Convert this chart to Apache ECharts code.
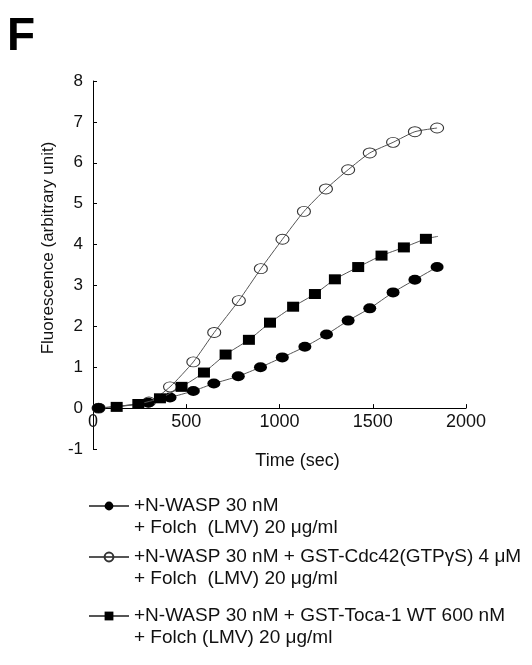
<!DOCTYPE html>
<html>
<head>
<meta charset="utf-8">
<script src="https://cdn.jsdelivr.net/npm/echarts@6/dist/echarts.min.js"></script>
<style>
  html, body { margin: 0; padding: 0; background: #fff; }
  #chart { width: 532px; height: 665px; }
</style>
</head>
<body>
<div id="chart"></div>
<script>
// values
var nwaspTime = [30, 296, 413, 538, 648, 779, 898, 1015, 1136, 1252, 1368, 1484, 1609, 1726, 1845];
var nwaspValue = [0, 0.13, 0.26, 0.42, 0.60, 0.78, 1.00, 1.24, 1.50, 1.80, 2.14, 2.44, 2.83, 3.14, 3.45];

var cdc42Time = [30, 300, 413, 538, 650, 782, 900, 1016, 1131, 1249, 1368, 1484, 1609, 1726, 1845];
var cdc42Value = [0, 0.15, 0.52, 1.13, 1.85, 2.63, 3.41, 4.13, 4.81, 5.36, 5.83, 6.24, 6.50, 6.76, 6.85];

var tocaTime = [127, 243, 359, 475, 595, 711, 836, 949, 1073, 1190, 1297, 1422, 1547, 1667, 1785, 1850];
var tocaValue = [0.03, 0.10, 0.24, 0.52, 0.87, 1.31, 1.67, 2.09, 2.48, 2.79, 3.15, 3.45, 3.73, 3.93, 4.14, 4.20];

var names = [
    '+N-WASP 30 nM\n+ Folch  (LMV) 20 \u03bcg/ml',
    '+N-WASP 30 nM + GST-Cdc42(GTP\u03b3S) 4 \u03bcM\n+ Folch  (LMV) 20 \u03bcg/ml',
    '+N-WASP 30 nM + GST-Toca-1 WT 600 nM\n+ Folch (LMV) 20 \u03bcg/ml'
];

var font = "'Liberation Sans', Arial, sans-serif";

function pairs(t, v) {
    var out = [];
    for (var i = 0; i < t.length; i++) {
        out.push([t[i], v[i]]);
    }
    return out;
}

var tocaData = pairs(tocaTime, tocaValue);
// last point is only the end of the line, no marker there
tocaData[tocaData.length - 1] = { value: tocaData[tocaData.length - 1], symbol: 'none' };

function legendFor(name, top) {
    return {
        data: [name],
        orient: 'vertical',
        left: 88,
        top: top,
        padding: 0,
        itemWidth: 40,
        itemHeight: 11,
        selectedMode: false,
        // empty first line so the icon sits beside the first text line
        formatter: function (n) { return '\n' + n; },
        textStyle: {
            fontFamily: font,
            fontSize: 19,
            color: '#111',
            lineHeight: 22
        }
    };
}

var myChart = echarts.init(document.getElementById('chart'));
var option = {
    animation: false,
    backgroundColor: '#fff',
    title: {
        text: 'F',
        left: 2,
        top: 9,
        textStyle: { fontFamily: font, fontSize: 46, fontWeight: 'bold', color: '#000' }
    },
    legend: [
        legendFor(names[0], 473),
        legendFor(names[1], 524),
        legendFor(names[2], 583)
    ],
    grid: {
        left: 93,
        right: 66,
        top: 81,
        bottom: 216
    },
    xAxis: {
        type: 'value',
        min: 0,
        max: 2000,
        interval: 500,
        name: 'Time (sec)',
        nameLocation: 'middle',
        nameGap: 3,
        nameTextStyle: { fontFamily: font, fontSize: 18, color: '#111', padding: [0, 0, 0, 36] },
        axisLine: { onZero: true, lineStyle: { color: '#000', width: 1 } },
        axisTick: { inside: true, length: 4, lineStyle: { color: '#000' } },
        axisLabel: {
            fontFamily: font, fontSize: 18, color: '#111', margin: -36,
            formatter: function (v) { return String(v); }
        },
        splitLine: { show: false }
    },
    yAxis: {
        type: 'value',
        min: -1,
        max: 8,
        interval: 1,
        name: 'Fluorescence (arbitrary unit)',
        nameLocation: 'middle',
        nameGap: 34,
        nameTextStyle: { fontFamily: font, fontSize: 17, color: '#111', padding: [0, 0, 0, 34] },
        axisLine: { show: true, lineStyle: { color: '#000', width: 1 } },
        axisTick: { inside: true, length: 4, lineStyle: { color: '#000' } },
        axisLabel: { fontFamily: font, fontSize: 17, color: '#111', margin: 10 },
        splitLine: { show: false }
    },
    series: [
        {
            name: names[0],
            type: 'line',
            data: pairs(nwaspTime, nwaspValue),
            smooth: 0.2,
            symbol: 'circle',
            symbolSize: [13, 10],
            lineStyle: { color: '#555', width: 1 },
            itemStyle: { color: '#000' },
            z: 3
        },
        {
            name: names[1],
            type: 'line',
            data: pairs(cdc42Time, cdc42Value),
            smooth: 0.2,
            symbol: 'circle',
            symbolSize: [13, 10],
            lineStyle: { color: '#555', width: 1 },
            itemStyle: { color: 'rgba(255,255,255,0)', borderColor: '#333', borderWidth: 1 },
            z: 2
        },
        {
            name: names[2],
            type: 'line',
            data: tocaData,
            smooth: 0.2,
            symbol: 'rect',
            symbolSize: [12, 10],
            lineStyle: { color: '#555', width: 1 },
            itemStyle: { color: '#000' },
            z: 4
        }
    ]
};
myChart.setOption(option);
</script>
</body>
</html>
